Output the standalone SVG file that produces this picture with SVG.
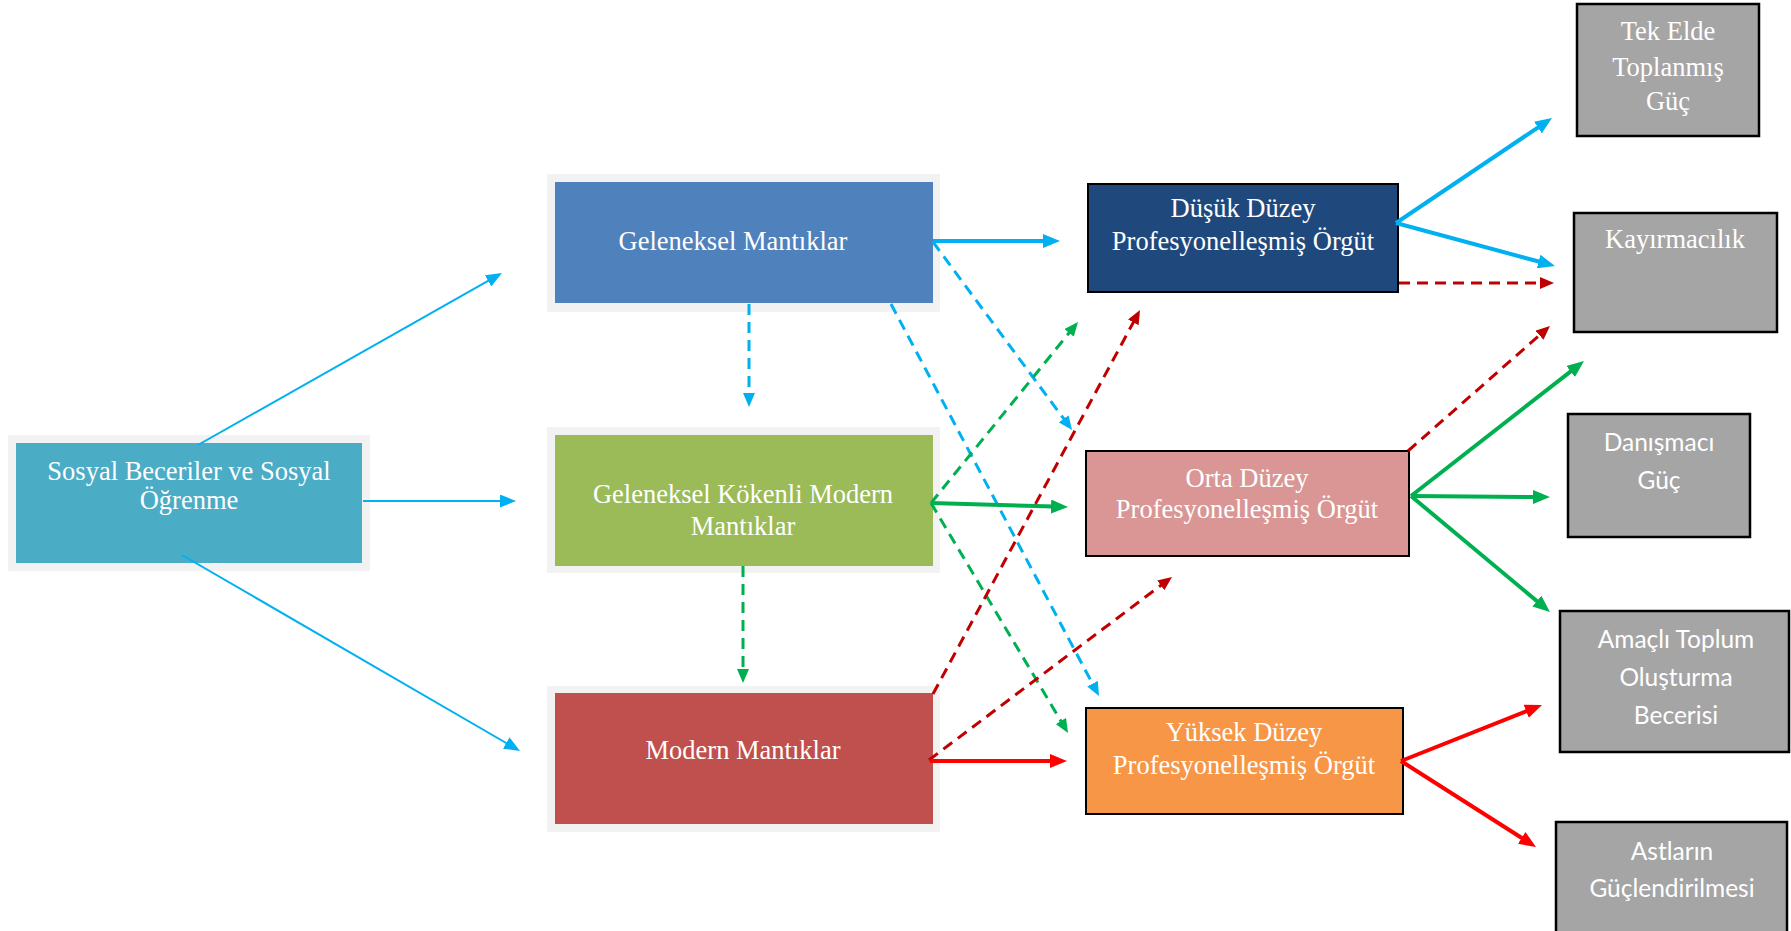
<svg xmlns="http://www.w3.org/2000/svg" width="1791" height="931" viewBox="0 0 1791 931">
  <style>
    .frame { fill: #F2F2F2; }
    .serif { font-family: "Liberation Serif", "Times New Roman", serif; font-size: 26.5px; fill: #FFFFFF; text-anchor: middle; }
    .sans { font-family: Lato, "Liberation Sans", sans-serif; font-size: 24.5px; fill: #FFFFFF; text-anchor: middle; }
    .org { stroke: #000000; stroke-width: 2; }
    .gray { fill: #A5A5A5; stroke: #000000; stroke-width: 2.5; }
    .ln { fill: none; stroke-linecap: butt; }
    .thin { stroke-width: 2; }
    .thick { stroke-width: 4; }
    .dash { stroke-width: 3; stroke-dasharray: 11 7; }
    .blue { stroke: #00B0F0; }
    .green { stroke: #00B050; }
    .dred { stroke: #C00000; }
    .red { stroke: #FF0000; }
  </style>
  <defs>
    <marker id="hBlueThin" markerUnits="userSpaceOnUse" markerWidth="16" markerHeight="13" refX="2" refY="6.5" orient="auto">
      <path d="M0,0 L16,6.5 L0,13 z" fill="#00B0F0"/>
    </marker>
    <marker id="hBlue" markerUnits="userSpaceOnUse" markerWidth="17" markerHeight="14" refX="3" refY="7" orient="auto">
      <path d="M0,0 L17,7 L0,14 z" fill="#00B0F0"/>
    </marker>
    <marker id="hBlueDash" markerUnits="userSpaceOnUse" markerWidth="14" markerHeight="12" refX="2" refY="6" orient="auto">
      <path d="M0,0 L14,6 L0,12 z" fill="#00B0F0"/>
    </marker>
    <marker id="hGreen" markerUnits="userSpaceOnUse" markerWidth="17" markerHeight="14" refX="3" refY="7" orient="auto">
      <path d="M0,0 L17,7 L0,14 z" fill="#00B050"/>
    </marker>
    <marker id="hGreenDash" markerUnits="userSpaceOnUse" markerWidth="14" markerHeight="12" refX="2" refY="6" orient="auto">
      <path d="M0,0 L14,6 L0,12 z" fill="#00B050"/>
    </marker>
    <marker id="hDredDash" markerUnits="userSpaceOnUse" markerWidth="14" markerHeight="12" refX="2" refY="6" orient="auto">
      <path d="M0,0 L14,6 L0,12 z" fill="#C00000"/>
    </marker>
    <marker id="hRed" markerUnits="userSpaceOnUse" markerWidth="17" markerHeight="14" refX="3" refY="7" orient="auto">
      <path d="M0,0 L17,7 L0,14 z" fill="#FF0000"/>
    </marker>
  </defs>

  <rect width="1791" height="931" fill="#FFFFFF"/>

  <!-- source: social skills -->
  <g id="sosyal">
    <rect class="frame" x="8" y="435" width="362" height="136"/>
    <rect x="16" y="443" width="346" height="120" fill="#4BACC6"/>
    <text class="serif" x="189" y="480">Sosyal Beceriler ve Sosyal</text>
    <text class="serif" x="189" y="509">Öğrenme</text>
  </g>

  <!-- logics column -->
  <g id="geleneksel">
    <rect class="frame" x="547" y="174" width="393" height="138"/>
    <rect x="555" y="182" width="378" height="121" fill="#4F81BD"/>
    <text class="serif" x="733" y="250">Geleneksel Mantıklar</text>
  </g>
  <g id="geleneksel-kokenli">
    <rect class="frame" x="547" y="427" width="393" height="146"/>
    <rect x="555" y="435" width="378" height="131" fill="#9BBB59"/>
    <text class="serif" x="743" y="503">Geleneksel Kökenli Modern</text>
    <text class="serif" x="743" y="535">Mantıklar</text>
  </g>
  <g id="modern">
    <rect class="frame" x="547" y="686" width="393" height="146"/>
    <rect x="555" y="693" width="378" height="131" fill="#C0504D"/>
    <text class="serif" x="743" y="759">Modern Mantıklar</text>
  </g>

  <!-- organisation levels -->
  <g id="dusuk">
    <rect class="org" x="1088" y="184" width="310" height="108" fill="#1F497D"/>
    <text class="serif" x="1243" y="217">Düşük Düzey</text>
    <text class="serif" x="1243" y="250">Profesyonelleşmiş Örgüt</text>
  </g>
  <g id="orta">
    <rect class="org" x="1086" y="451" width="323" height="105" fill="#D99694"/>
    <text class="serif" x="1247" y="487">Orta Düzey</text>
    <text class="serif" x="1247" y="518">Profesyonelleşmiş Örgüt</text>
  </g>
  <g id="yuksek">
    <rect class="org" x="1086" y="708" width="317" height="106" fill="#F79646"/>
    <text class="serif" x="1244" y="741">Yüksek Düzey</text>
    <text class="serif" x="1244" y="774">Profesyonelleşmiş Örgüt</text>
  </g>

  <!-- outcomes -->
  <g id="tek-elde">
    <rect class="gray" x="1577" y="4" width="182" height="132"/>
    <text class="serif" x="1668" y="40">Tek Elde</text>
    <text class="serif" x="1668" y="76">Toplanmış</text>
    <text class="serif" x="1668" y="110">Güç</text>
  </g>
  <g id="kayirmacilik">
    <rect class="gray" x="1574" y="213" width="203" height="119"/>
    <text class="serif" x="1675" y="248">Kayırmacılık</text>
  </g>
  <g id="danismaci">
    <rect class="gray" x="1568" y="414" width="182" height="123"/>
    <text class="sans" x="1659" y="451">Danışmacı</text>
    <text class="sans" x="1659" y="489">Güç</text>
  </g>
  <g id="amacli">
    <rect class="gray" x="1560" y="611" width="229" height="141"/>
    <text class="sans" x="1676" y="648">Amaçlı Toplum</text>
    <text class="sans" x="1676" y="686">Oluşturma</text>
    <text class="sans" x="1676" y="724">Becerisi</text>
  </g>
  <g id="astlarin">
    <rect class="gray" x="1556" y="822" width="231" height="130"/>
    <text class="sans" x="1672" y="860">Astların</text>
    <text class="sans" x="1672" y="897">Güçlendirilmesi</text>
  </g>

  <!-- connectors -->
  <g id="connectors">
    <!-- from social skills -->
    <line class="ln thin blue" x1="198" y1="445" x2="489.8" y2="279.9" marker-end="url(#hBlueThin)"/>
    <line class="ln thin blue" x1="363" y1="501" x2="502" y2="501" marker-end="url(#hBlueThin)"/>
    <line class="ln thin blue" x1="182" y1="555" x2="507.9" y2="744" marker-end="url(#hBlueThin)"/>

    <!-- from traditional logics -->
    <line class="ln thick blue" x1="933" y1="241" x2="1046" y2="241" marker-end="url(#hBlue)"/>
    <line class="ln dash blue" x1="749" y1="304" x2="749" y2="395" marker-end="url(#hBlueDash)"/>
    <line class="ln dash blue" x1="933" y1="242" x2="1064.9" y2="420.4" marker-end="url(#hBlueDash)"/>
    <line class="ln dash blue" x1="891" y1="304" x2="1093.4" y2="685.4" marker-end="url(#hBlueDash)"/>

    <!-- from tradition-rooted modern logics -->
    <line class="ln dash green" x1="931" y1="503" x2="1070.4" y2="331.3" marker-end="url(#hGreenDash)"/>
    <line class="ln thick green" x1="931" y1="503" x2="1054" y2="506.6" marker-end="url(#hGreen)"/>
    <line class="ln dash green" x1="931" y1="503" x2="1061.9" y2="722.7" marker-end="url(#hGreenDash)"/>
    <line class="ln dash green" x1="743" y1="566" x2="743" y2="671" marker-end="url(#hGreenDash)"/>

    <!-- from modern logics -->
    <line class="ln dash dred" x1="933" y1="694" x2="1134.3" y2="320.6" marker-end="url(#hDredDash)"/>
    <line class="ln dash dred" x1="929" y1="760" x2="1162.4" y2="584.2" marker-end="url(#hDredDash)"/>
    <line class="ln thick red" x1="930" y1="761" x2="1053" y2="761" marker-end="url(#hRed)"/>

    <!-- from low-level organisation -->
    <line class="ln thick blue" x1="1396" y1="223" x2="1540.4" y2="125.8" marker-end="url(#hBlue)"/>
    <line class="ln thick blue" x1="1396" y1="223" x2="1541.5" y2="262.3" marker-end="url(#hBlue)"/>
    <line class="ln dash dred" x1="1399" y1="283" x2="1542" y2="283" marker-end="url(#hDredDash)"/>

    <!-- from mid-level organisation -->
    <line class="ln dash dred" x1="1408" y1="451" x2="1541" y2="333.9" marker-end="url(#hDredDash)"/>
    <line class="ln thick green" x1="1411" y1="496" x2="1573" y2="369.6" marker-end="url(#hGreen)"/>
    <line class="ln thick green" x1="1411" y1="496" x2="1536" y2="497" marker-end="url(#hGreen)"/>
    <line class="ln thick green" x1="1411" y1="496" x2="1539.2" y2="603" marker-end="url(#hGreen)"/>

    <!-- from high-level organisation -->
    <line class="ln thick red" x1="1401" y1="761" x2="1529" y2="710.2" marker-end="url(#hRed)"/>
    <line class="ln thick red" x1="1401" y1="761" x2="1524.2" y2="839.5" marker-end="url(#hRed)"/>
  </g>
</svg>
